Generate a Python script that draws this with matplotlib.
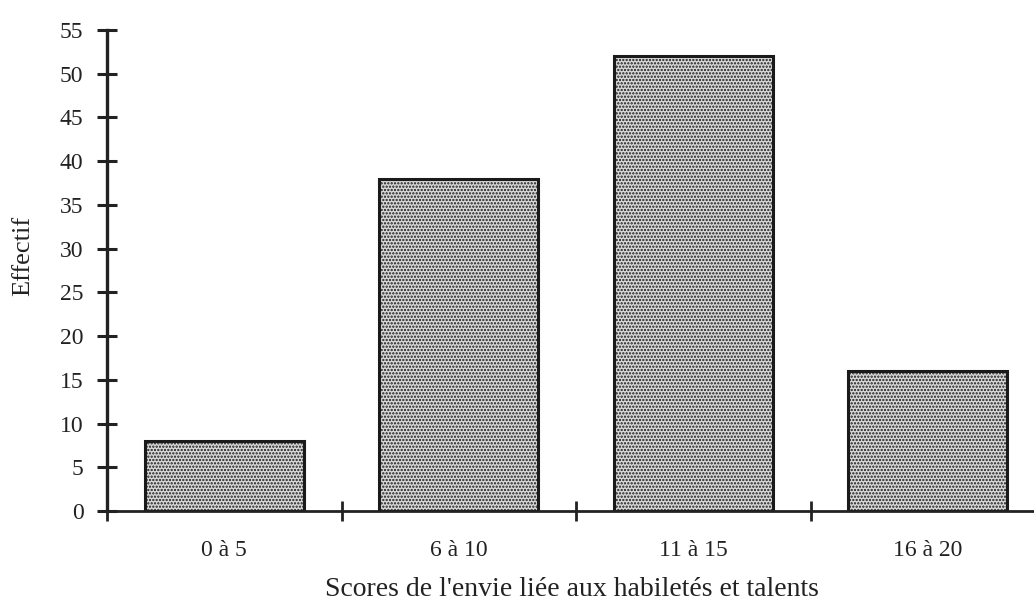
import matplotlib
matplotlib.use('Agg')
import matplotlib.pyplot as plt
import numpy as np

categories = ['0 à 5', '6 à 10', '11 à 15', '16 à 20']
effectifs = [8, 38, 52, 16]
yticks = list(range(0, 56, 5))

plt.rcParams['font.family'] = ['Liberation Serif', 'DejaVu Serif']
plt.rcParams['hatch.color'] = '#777777'
plt.rcParams['hatch.linewidth'] = 1.1

fig = plt.figure(figsize=(10.34, 6.02), dpi=100)
# the axis runs past the right edge of the picture, as in the original
ax = fig.add_axes([107 / 1034, 91 / 602, 938 / 1034, 481 / 602])

centers = np.arange(len(categories)) + 0.5
ax.bar(centers, effectifs, width=0.68, facecolor='#d8d8d8', edgecolor='#1a1a1a',
       linewidth=2.2, hatch='.....')

ax.set_xlim(0, len(categories))
ax.set_ylim(0, 55)
ax.set_yticks(yticks)
ax.set_xticks(np.arange(len(categories) + 1))
ax.set_xticklabels([])
ax.set_xticks(centers, minor=True)
ax.set_xticklabels(categories, minor=True)

for s in ['top', 'right']:
    ax.spines[s].set_visible(False)
ax.spines['left'].set_linewidth(2.4)
ax.spines['bottom'].set_linewidth(2.0)
ax.spines['left'].set_color('#222222')
ax.spines['bottom'].set_color('#222222')

ax.tick_params(axis='y', which='major', direction='inout', length=14, width=2.2,
               colors='#222222', labelsize=17, pad=10)
ax.tick_params(axis='x', which='major', direction='inout', length=14, width=2.0,
               colors='#222222')
ax.tick_params(axis='x', which='minor', length=0, labelsize=17, pad=21,
               labelcolor='#222222')

ax.set_ylabel('Effectif', fontsize=19, color='#222222')
ax.yaxis.set_label_coords(-73 / 938, 0.53)
ax.set_xlabel("Scores de l'envie liée aux habiletés et talents", fontsize=20,
              color='#222222')
ax.xaxis.set_label_coords(465 / 938, -66 / 481)

fig.savefig('out.png', dpi=100)
